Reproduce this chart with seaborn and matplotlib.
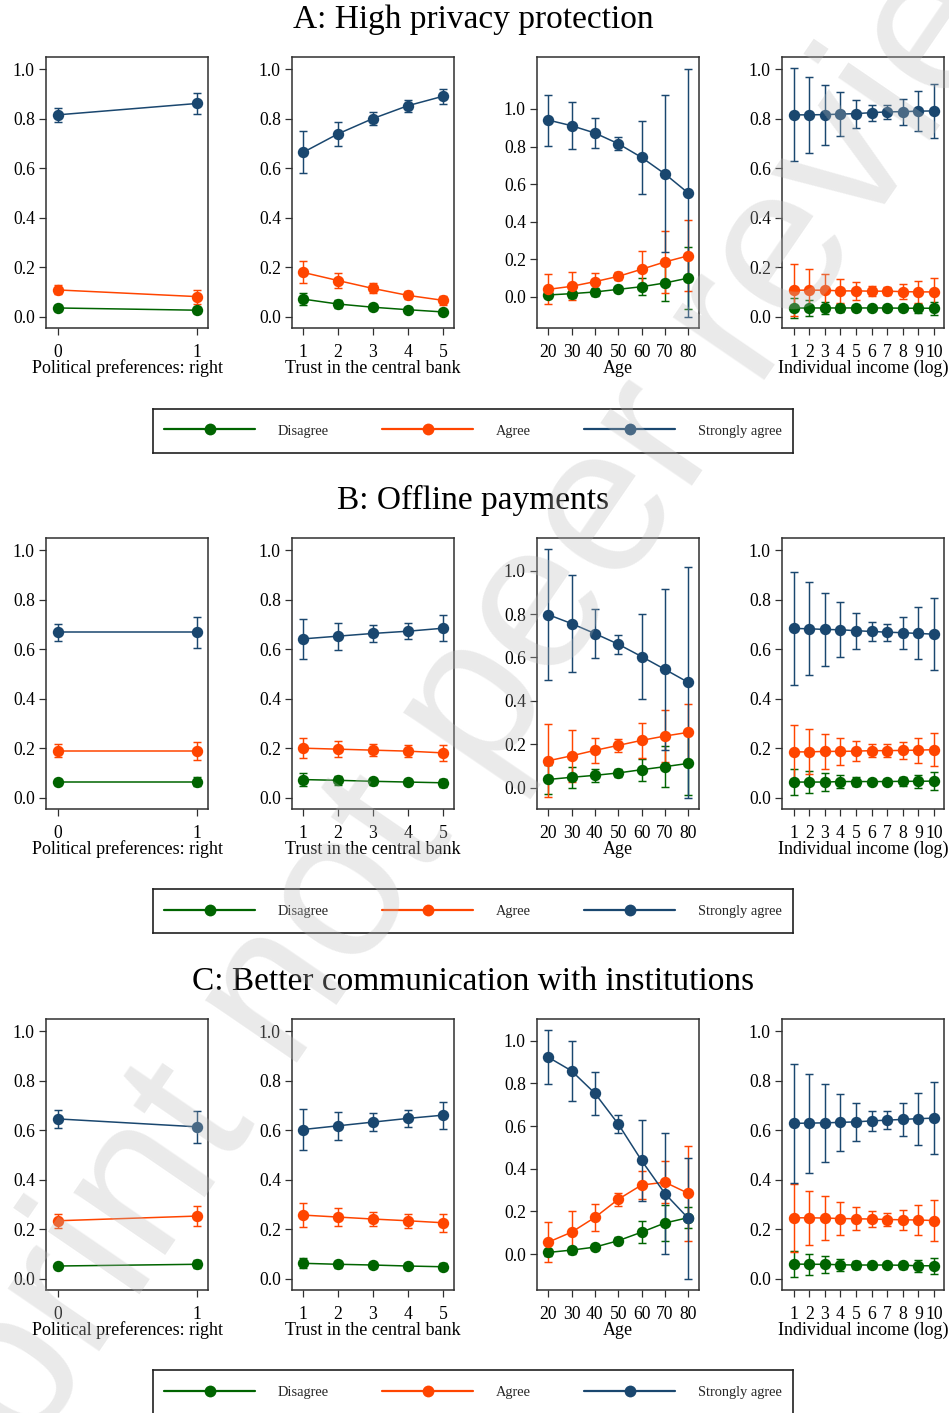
import matplotlib
matplotlib.use("Agg")
import matplotlib.pyplot as plt
import seaborn as sns
import pandas as pd
from matplotlib.lines import Line2D

# ---------------- data ----------------
categories = ["Disagree", "Agree", "Strongly agree"]
colors = ["#006400", "#ff4500", "#1a476f"]
row_titles = ["A: High privacy protection", "B: Offline payments",
              "C: Better communication with institutions"]
x_labels = ["Political preferences: right", "Trust in the central bank",
            "Age", "Individual income (log)"]
pol_x = [0, 1]
trust_x = [1, 2, 3, 4, 5]
age_x = [20, 30, 40, 50, 60, 70, 80]
inc_x = [1, 2, 3, 4, 5, 6, 7, 8, 9, 10]
y_ticks = [0.0, 0.2, 0.4, 0.6, 0.8, 1.0]

# Row A: High privacy protection  (point estimate, CI half-width)
A_pol_dis = [0.035, 0.026];  A_pol_dis_ci = [0.011, 0.012]
A_pol_agr = [0.108, 0.081];  A_pol_agr_ci = [0.018, 0.028]
A_pol_sa = [0.816, 0.862];   A_pol_sa_ci = [0.028, 0.044]
A_tr_dis = [0.071, 0.051, 0.038, 0.028, 0.019]; A_tr_dis_ci = [0.025, 0.016, 0.012, 0.010, 0.008]
A_tr_agr = [0.179, 0.146, 0.114, 0.086, 0.066]; A_tr_agr_ci = [0.045, 0.030, 0.020, 0.016, 0.017]
A_tr_sa = [0.664, 0.739, 0.801, 0.853, 0.891];  A_tr_sa_ci = [0.085, 0.048, 0.028, 0.025, 0.030]
A_age_dis = [0.009, 0.016, 0.025, 0.039, 0.053, 0.073, 0.099]
A_age_dis_ci = [0.014, 0.023, 0.019, 0.014, 0.046, 0.098, 0.166]
A_age_agr = [0.039, 0.055, 0.080, 0.108, 0.146, 0.185, 0.218]
A_age_agr_ci = [0.080, 0.074, 0.044, 0.021, 0.095, 0.167, 0.190]
A_age_sa = [0.941, 0.911, 0.872, 0.815, 0.742, 0.654, 0.552]
A_age_sa_ci = [0.136, 0.125, 0.082, 0.035, 0.194, 0.418, 0.662]
A_inc_dis = [0.035, 0.035, 0.035, 0.035, 0.035, 0.035, 0.035, 0.034, 0.034, 0.034]
A_inc_dis_ci = [0.042, 0.034, 0.026, 0.018, 0.012, 0.008, 0.008, 0.011, 0.019, 0.026]
A_inc_agr = [0.107, 0.107, 0.107, 0.104, 0.104, 0.103, 0.103, 0.101, 0.100, 0.100]
A_inc_agr_ci = [0.104, 0.085, 0.064, 0.049, 0.035, 0.021, 0.017, 0.031, 0.045, 0.056]
A_inc_sa = [0.816, 0.816, 0.817, 0.819, 0.821, 0.825, 0.828, 0.829, 0.831, 0.832]
A_inc_sa_ci = [0.188, 0.155, 0.121, 0.088, 0.057, 0.032, 0.028, 0.052, 0.080, 0.110]

# Row B: Offline payments
B_pol_dis = [0.065, 0.065];  B_pol_dis_ci = [0.012, 0.017]
B_pol_agr = [0.190, 0.190];  B_pol_agr_ci = [0.025, 0.036]
B_pol_sa = [0.668, 0.668];   B_pol_sa_ci = [0.034, 0.061]
B_tr_dis = [0.073, 0.070, 0.066, 0.063, 0.060]; B_tr_dis_ci = [0.025, 0.017, 0.013, 0.012, 0.017]
B_tr_agr = [0.200, 0.196, 0.192, 0.188, 0.181]; B_tr_agr_ci = [0.041, 0.031, 0.025, 0.024, 0.032]
B_tr_sa = [0.642, 0.653, 0.664, 0.673, 0.685];  B_tr_sa_ci = [0.081, 0.055, 0.033, 0.033, 0.052]
B_age_dis = [0.038, 0.048, 0.057, 0.068, 0.083, 0.097, 0.112]
B_age_dis_ci = [0.065, 0.049, 0.030, 0.017, 0.051, 0.094, 0.145]
B_age_agr = [0.124, 0.147, 0.172, 0.195, 0.218, 0.238, 0.255]
B_age_agr_ci = [0.168, 0.119, 0.058, 0.029, 0.082, 0.119, 0.130]
B_age_sa = [0.797, 0.756, 0.710, 0.661, 0.604, 0.545, 0.485]
B_age_sa_ci = [0.301, 0.222, 0.113, 0.043, 0.194, 0.369, 0.532]
B_inc_dis = [0.063, 0.063, 0.063, 0.065, 0.065, 0.065, 0.065, 0.066, 0.066, 0.067]
B_inc_dis_ci = [0.054, 0.045, 0.036, 0.026, 0.018, 0.011, 0.011, 0.017, 0.027, 0.038]
B_inc_agr = [0.185, 0.185, 0.187, 0.187, 0.188, 0.190, 0.190, 0.191, 0.192, 0.194]
B_inc_agr_ci = [0.108, 0.091, 0.072, 0.055, 0.039, 0.025, 0.025, 0.035, 0.051, 0.068]
B_inc_sa = [0.684, 0.683, 0.680, 0.679, 0.675, 0.672, 0.669, 0.667, 0.664, 0.661]
B_inc_sa_ci = [0.228, 0.189, 0.149, 0.111, 0.073, 0.040, 0.034, 0.065, 0.105, 0.145]

# Row C: Better communication with institutions
C_pol_dis = [0.051, 0.058];  C_pol_dis_ci = [0.010, 0.017]
C_pol_agr = [0.234, 0.253];  C_pol_agr_ci = [0.028, 0.042]
C_pol_sa = [0.646, 0.614];   C_pol_sa_ci = [0.036, 0.065]
C_tr_dis = [0.062, 0.058, 0.055, 0.051, 0.048]; C_tr_dis_ci = [0.020, 0.015, 0.012, 0.012, 0.015]
C_tr_agr = [0.257, 0.249, 0.241, 0.234, 0.226]; C_tr_agr_ci = [0.048, 0.037, 0.027, 0.028, 0.037]
C_tr_sa = [0.603, 0.618, 0.633, 0.648, 0.661];  C_tr_sa_ci = [0.083, 0.056, 0.035, 0.034, 0.054]
C_age_dis = [0.008, 0.019, 0.033, 0.063, 0.103, 0.146, 0.171]
C_age_dis_ci = [0.017, 0.016, 0.014, 0.017, 0.053, 0.086, 0.050]
C_age_agr = [0.056, 0.103, 0.172, 0.257, 0.324, 0.337, 0.285]
C_age_agr_ci = [0.094, 0.097, 0.065, 0.031, 0.064, 0.099, 0.222]
C_age_sa = [0.923, 0.859, 0.754, 0.610, 0.439, 0.284, 0.168]
C_age_sa_ci = [0.127, 0.141, 0.100, 0.042, 0.189, 0.284, 0.284]
C_inc_dis = [0.059, 0.058, 0.058, 0.056, 0.055, 0.055, 0.055, 0.054, 0.052, 0.052]
C_inc_dis_ci = [0.052, 0.043, 0.034, 0.025, 0.018, 0.010, 0.010, 0.014, 0.024, 0.032]
C_inc_agr = [0.246, 0.246, 0.245, 0.243, 0.242, 0.241, 0.239, 0.238, 0.237, 0.235]
C_inc_agr_ci = [0.137, 0.109, 0.088, 0.066, 0.046, 0.031, 0.027, 0.041, 0.060, 0.082]
C_inc_sa = [0.628, 0.629, 0.630, 0.632, 0.634, 0.638, 0.641, 0.644, 0.647, 0.649]
C_inc_sa_ci = [0.242, 0.200, 0.158, 0.116, 0.076, 0.040, 0.036, 0.067, 0.105, 0.145]

panels = [
    [(pol_x, [(A_pol_dis, A_pol_dis_ci), (A_pol_agr, A_pol_agr_ci), (A_pol_sa, A_pol_sa_ci)]),
     (trust_x, [(A_tr_dis, A_tr_dis_ci), (A_tr_agr, A_tr_agr_ci), (A_tr_sa, A_tr_sa_ci)]),
     (age_x, [(A_age_dis, A_age_dis_ci), (A_age_agr, A_age_agr_ci), (A_age_sa, A_age_sa_ci)]),
     (inc_x, [(A_inc_dis, A_inc_dis_ci), (A_inc_agr, A_inc_agr_ci), (A_inc_sa, A_inc_sa_ci)])],
    [(pol_x, [(B_pol_dis, B_pol_dis_ci), (B_pol_agr, B_pol_agr_ci), (B_pol_sa, B_pol_sa_ci)]),
     (trust_x, [(B_tr_dis, B_tr_dis_ci), (B_tr_agr, B_tr_agr_ci), (B_tr_sa, B_tr_sa_ci)]),
     (age_x, [(B_age_dis, B_age_dis_ci), (B_age_agr, B_age_agr_ci), (B_age_sa, B_age_sa_ci)]),
     (inc_x, [(B_inc_dis, B_inc_dis_ci), (B_inc_agr, B_inc_agr_ci), (B_inc_sa, B_inc_sa_ci)])],
    [(pol_x, [(C_pol_dis, C_pol_dis_ci), (C_pol_agr, C_pol_agr_ci), (C_pol_sa, C_pol_sa_ci)]),
     (trust_x, [(C_tr_dis, C_tr_dis_ci), (C_tr_agr, C_tr_agr_ci), (C_tr_sa, C_tr_sa_ci)]),
     (age_x, [(C_age_dis, C_age_dis_ci), (C_age_agr, C_age_agr_ci), (C_age_sa, C_age_sa_ci)]),
     (inc_x, [(C_inc_dis, C_inc_dis_ci), (C_inc_agr, C_inc_agr_ci), (C_inc_sa, C_inc_sa_ci)])],
]

# ---------------- layout ----------------
W, H = 949, 1413
col_left = [46, 292, 537, 782]
row_top = [57, 538, 1019]
ax_w, ax_h = 162, 271
legend_top = [409, 889, 1370]
xlims = [(-0.083, 1.08), (0.686, 5.32), (15.2, 84.6), (0.25, 10.64)]
ylims_std = (-0.046, 1.05)
ylims_age = [(-0.167, 1.277), (-0.098, 1.15), (-0.168, 1.102)]

sns.set_theme(style="ticks")
plt.rcParams["font.family"] = ["Liberation Serif", "DejaVu Serif"]
plt.rcParams["axes.facecolor"] = "white"

fig = plt.figure(figsize=(W / 100, H / 100), dpi=100)
fig.patch.set_facecolor("white")


def px_axes(l, t, w, h):
    return fig.add_axes([l / W, 1 - (t + h) / H, w / W, h / H])


spine_col = "#303030"
for r in range(3):
    fig.text(473 / W, 1 - (row_top[r] - 29) / H, row_titles[r], ha="center",
             va="baseline", fontsize=24, color="black")
    for c in range(4):
        ax = px_axes(col_left[c], row_top[r], ax_w, ax_h)
        xv, series = panels[r][c]
        rows = []
        for cat, (m, ci) in zip(categories, series):
            for xi, yi in zip(xv, m):
                rows.append({"x": xi, "y": yi, "cat": cat})
        df = pd.DataFrame(rows)
        for col, (m, ci) in zip(colors, series):
            ax.errorbar(xv, m, yerr=ci, fmt="none", ecolor=col, elinewidth=1.05,
                        capsize=3.2, capthick=1.05, zorder=2)
        sns.lineplot(data=df, x="x", y="y", hue="cat", hue_order=categories,
                     palette=colors, marker="o", markersize=8.2,
                     markeredgewidth=0, linewidth=1.1, legend=False,
                     errorbar=None, sort=False, ax=ax, zorder=3)
        ax.set_xlim(*xlims[c])
        ax.set_ylim(*(ylims_age[r] if c == 2 else ylims_std))
        ax.set_xticks(xv)
        ax.set_xticklabels([str(v) for v in xv])
        ax.set_yticks(y_ticks)
        ax.set_yticklabels([f"{v:.1f}" for v in y_ticks])
        ax.set_xlabel(x_labels[c], fontsize=13, labelpad=-1, color="black")
        ax.set_ylabel("")
        ax.tick_params(axis="both", direction="out", length=5, width=0.9,
                       color=spine_col, labelsize=12.7, labelcolor="black")
        ax.tick_params(axis="x", pad=6.5)
        ax.tick_params(axis="y", pad=3)
        for s in ax.spines.values():
            s.set_visible(True)
            s.set_color(spine_col)
            s.set_linewidth(1.1)
        ax.grid(False)

    # legend box
    lax = px_axes(153, legend_top[r], 640, 44)
    lax.set_xticks([])
    lax.set_yticks([])
    lax.set_facecolor("white")
    for s in lax.spines.values():
        s.set_visible(True)
        s.set_color("#202020")
        s.set_linewidth(1.2)
    handles = [Line2D([], [], color=col, lw=1.6, marker="o", markersize=8.5,
                      markeredgewidth=0) for col in colors]
    lax.legend(handles, categories, loc="center", ncol=3, frameon=False,
               fontsize=10.4, handlelength=6.3, handletextpad=1.55,
               columnspacing=3.7, borderaxespad=0, borderpad=0)

# watermark
fig.text(492 / W, 1 - 683 / H, "Preprint not peer reviewed", rotation=55.6,
         rotation_mode="anchor", ha="center", va="center", fontsize=151,
         family=["Liberation Sans", "DejaVu Sans"], color="#bbbbbb",
         alpha=0.3, zorder=20)

fig.savefig("out.png", dpi=100, facecolor="white")
